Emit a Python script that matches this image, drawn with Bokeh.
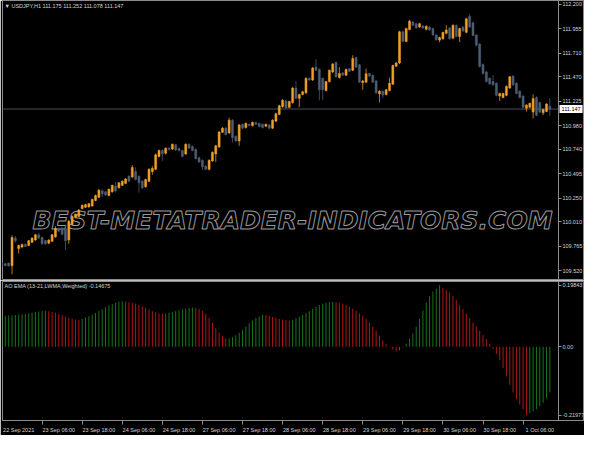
from bokeh.plotting import figure
from bokeh.models import (Range1d, FixedTicker, NumeralTickFormatter, CustomJSTickFormatter,
                          Label, ColumnDataSource)
from bokeh.layouts import column
from bokeh.embed import file_html
from bokeh.resources import INLINE

# ---------------- data (USDJPY H1) ----------------
open_ = [109.595, 109.588, 109.595, 109.569, 109.847, 109.741, 109.757, 109.783, 109.773, 109.805,
         109.828, 109.880, 109.854, 109.821, 109.796, 109.815, 109.860, 109.944, 109.944, 109.944,
         109.828, 109.983, 110.054, 110.064, 110.145, 110.158, 110.161, 110.171, 110.226, 110.258,
         110.323, 110.313, 110.275, 110.313, 110.372, 110.355, 110.378, 110.398, 110.469, 110.462,
         110.517, 110.469, 110.420, 110.365, 110.420, 110.517, 110.540, 110.669, 110.728, 110.702,
         110.753, 110.744, 110.786, 110.750, 110.728, 110.695, 110.792, 110.770, 110.741, 110.656,
         110.630, 110.572, 110.540, 110.624, 110.695, 110.766, 110.912, 110.954, 110.906, 111.035,
         110.873, 110.825, 110.993, 110.961, 110.993, 110.980, 111.012, 111.003, 110.993, 110.974,
         110.987, 110.954, 111.025, 111.093, 111.171, 111.229, 111.164, 111.213, 111.358, 111.255,
         111.294, 111.310, 111.456, 111.439, 111.569, 111.546, 111.456, 111.333, 111.423, 111.520,
         111.617, 111.465, 111.511, 111.488, 111.553, 111.537, 111.666, 111.592, 111.414, 111.417,
         111.504, 111.488, 111.430, 111.300, 111.326, 111.294, 111.333, 111.397, 111.579, 111.611,
         111.925, 111.828, 111.948, 112.023, 112.006, 111.974, 111.984, 111.951, 111.974, 111.958,
         111.893, 111.841, 111.854, 111.909, 111.964, 111.861, 111.990, 111.877, 111.974, 111.919,
         112.081, 112.016, 111.893, 111.802, 111.595, 111.521, 111.456, 111.424, 111.407, 111.278,
         111.262, 111.285, 111.359, 111.479, 111.407, 111.327, 111.278, 111.155, 111.165, 111.116,
         111.262, 111.213, 111.110, 111.123, 111.175]
high = [109.602, 109.595, 109.600, 109.876, 109.867, 109.780, 109.790, 109.795, 109.828, 109.855,
        109.890, 109.902, 109.862, 109.828, 109.835, 109.888, 109.967, 109.955, 109.960, 109.983,
        110.032, 110.075, 110.095, 110.140, 110.185, 110.192, 110.200, 110.245, 110.285, 110.340,
        110.339, 110.320, 110.345, 110.385, 110.411, 110.411, 110.428, 110.452, 110.480, 110.582,
        110.560, 110.480, 110.430, 110.445, 110.550, 110.572, 110.700, 110.740, 110.740, 110.760,
        110.760, 110.800, 110.795, 110.758, 110.735, 110.800, 110.800, 110.780, 110.750, 110.665,
        110.640, 110.580, 110.640, 110.720, 110.785, 110.925, 110.965, 110.965, 111.060, 111.045,
        110.880, 110.995, 111.000, 111.010, 111.000, 111.020, 111.020, 111.010, 111.000, 111.000,
        110.995, 111.045, 111.110, 111.190, 111.245, 111.240, 111.230, 111.370, 111.430, 111.300,
        111.330, 111.465, 111.465, 111.570, 111.650, 111.556, 111.465, 111.430, 111.545, 111.610,
        111.625, 111.569, 111.520, 111.555, 111.560, 111.689, 111.675, 111.600, 111.440, 111.553,
        111.510, 111.495, 111.440, 111.335, 111.335, 111.350, 111.462, 111.595, 111.620, 111.935,
        111.935, 111.965, 112.045, 112.030, 112.015, 112.016, 111.990, 111.990, 111.980, 111.965,
        111.900, 111.875, 111.925, 111.990, 111.970, 112.000, 112.000, 111.965, 111.980, 112.065,
        112.103, 112.025, 111.900, 111.810, 111.605, 111.530, 111.465, 111.488, 111.415, 111.310,
        111.310, 111.385, 111.480, 111.488, 111.415, 111.335, 111.285, 111.195, 111.210, 111.294,
        111.275, 111.220, 111.150, 111.205, 111.252]
low = [109.565, 109.562, 109.560, 109.482, 109.800, 109.692, 109.745, 109.755, 109.765, 109.798,
       109.820, 109.840, 109.780, 109.775, 109.785, 109.808, 109.850, 109.905, 109.875, 109.724,
       109.789, 109.975, 110.045, 110.055, 110.135, 110.150, 110.155, 110.165, 110.218, 110.250,
       110.258, 110.270, 110.268, 110.305, 110.307, 110.345, 110.372, 110.390, 110.410, 110.455,
       110.430, 110.307, 110.340, 110.355, 110.410, 110.485, 110.530, 110.660, 110.624, 110.690,
       110.730, 110.735, 110.725, 110.720, 110.660, 110.685, 110.745, 110.720, 110.640, 110.605,
       110.533, 110.530, 110.530, 110.615, 110.614, 110.755, 110.905, 110.880, 110.895, 110.809,
       110.815, 110.776, 110.945, 110.950, 110.970, 110.970, 110.985, 110.960, 110.950, 110.965,
       110.945, 110.945, 111.015, 111.085, 111.160, 111.150, 111.155, 111.200, 111.245, 111.164,
       111.285, 111.300, 111.430, 111.430, 111.530, 111.235, 111.235, 111.325, 111.415, 111.510,
       111.465, 111.455, 111.480, 111.480, 111.520, 111.530, 111.560, 111.410, 111.342, 111.410,
       111.470, 111.410, 111.300, 111.213, 111.255, 111.285, 111.325, 111.390, 111.570, 111.600,
       111.820, 111.820, 111.940, 111.980, 111.955, 111.965, 111.955, 111.940, 111.935, 111.885,
       111.835, 111.819, 111.845, 111.900, 111.845, 111.850, 111.870, 111.822, 111.925, 111.910,
       111.965, 111.880, 111.780, 111.565, 111.495, 111.415, 111.390, 111.380, 111.275, 111.229,
       111.255, 111.275, 111.350, 111.380, 111.295, 111.255, 111.155, 111.123, 111.155, 111.052,
       111.075, 111.105, 111.085, 111.115, 111.078]
close = [109.575, 109.572, 109.569, 109.854, 109.821, 109.773, 109.783, 109.763, 109.821, 109.847,
         109.880, 109.847, 109.789, 109.789, 109.828, 109.880, 109.944, 109.918, 109.886, 109.821,
         110.016, 110.064, 110.087, 110.129, 110.177, 110.184, 110.194, 110.236, 110.275, 110.330,
         110.291, 110.281, 110.339, 110.378, 110.323, 110.404, 110.420, 110.443, 110.420, 110.559,
         110.436, 110.404, 110.355, 110.436, 110.540, 110.550, 110.686, 110.728, 110.695, 110.753,
         110.741, 110.792, 110.734, 110.728, 110.669, 110.792, 110.753, 110.728, 110.647, 110.614,
         110.566, 110.540, 110.630, 110.711, 110.776, 110.915, 110.954, 110.889, 111.035, 110.857,
         110.825, 110.987, 110.954, 111.003, 110.980, 111.012, 110.993, 110.970, 110.961, 110.993,
         110.954, 111.035, 111.100, 111.180, 111.235, 111.158, 111.223, 111.358, 111.255, 111.294,
         111.320, 111.456, 111.439, 111.559, 111.537, 111.342, 111.342, 111.423, 111.537, 111.601,
         111.472, 111.504, 111.488, 111.546, 111.527, 111.656, 111.569, 111.417, 111.430, 111.501,
         111.481, 111.417, 111.310, 111.326, 111.287, 111.342, 111.407, 111.585, 111.611, 111.925,
         111.828, 111.957, 112.032, 111.990, 111.964, 112.006, 111.964, 111.980, 111.942, 111.893,
         111.845, 111.867, 111.919, 111.942, 111.854, 111.990, 111.877, 111.958, 111.932, 112.055,
         111.974, 111.887, 111.790, 111.576, 111.505, 111.424, 111.401, 111.391, 111.285, 111.304,
         111.304, 111.375, 111.472, 111.391, 111.304, 111.262, 111.165, 111.187, 111.204, 111.252,
         111.084, 111.116, 111.142, 111.197, 111.147]

# AO EMA (13-21, LWMA, Weighted) histogram values
ao = [0.0981, 0.0992, 0.1002, 0.1012, 0.1023, 0.1033, 0.1043, 0.1054, 0.1074, 0.1095,
      0.1116, 0.1136, 0.1147, 0.1157, 0.1147, 0.1126, 0.1095, 0.1054, 0.1012, 0.0971,
      0.0930, 0.0899, 0.0878, 0.0868, 0.0899, 0.0940, 0.0981, 0.1033, 0.1085, 0.1147,
      0.1209, 0.1271, 0.1333, 0.1374, 0.1415, 0.1446, 0.1467, 0.1457, 0.1436, 0.1415,
      0.1384, 0.1343, 0.1302, 0.1250, 0.1198, 0.1147, 0.1105, 0.1074, 0.1064, 0.1074,
      0.1095, 0.1116, 0.1147, 0.1178, 0.1209, 0.1229, 0.1250, 0.1260, 0.1250, 0.1219,
      0.1157, 0.1064, 0.0930, 0.0775, 0.0599, 0.0455, 0.0341, 0.0258, 0.0269, 0.0310,
      0.0372, 0.0455, 0.0547, 0.0651, 0.0754, 0.0847, 0.0930, 0.0981, 0.1023, 0.1012,
      0.0992, 0.0961, 0.0930, 0.0899, 0.0878, 0.0857, 0.0847, 0.0868, 0.0919, 0.0971,
      0.1023, 0.1085, 0.1147, 0.1219, 0.1281, 0.1343, 0.1384, 0.1415, 0.1436, 0.1446,
      0.1436, 0.1415, 0.1384, 0.1343, 0.1291, 0.1229, 0.1157, 0.1074, 0.0992, 0.0888,
      0.0775, 0.0651, 0.0517, 0.0362, 0.0207, 0.0083, -0.0010, -0.0093, -0.0155, -0.0114,
      -0.0021, 0.0103, 0.0258, 0.0434, 0.0640, 0.0899, 0.1167, 0.1426, 0.1632, 0.1777,
      0.1870, 0.19843, 0.1890, 0.1828, 0.1746, 0.1632, 0.1498, 0.1353, 0.1209, 0.1064,
      0.0919, 0.0785, 0.0651, 0.0517, 0.0382, 0.0248, 0.0103, -0.0062, -0.0227, -0.0434,
      -0.0682, -0.0950, -0.1219, -0.1467, -0.1684, -0.1859, -0.2004, -0.21977, -0.2128, -0.2076,
      -0.2004, -0.1911, -0.1797, -0.1653, -0.14675]

symbol = "USDJPY,H1"
indicator_name = "AO EMA (13-21,LWMA,Weighted)"
price_ticks = [109.520, 109.765, 110.010, 110.250, 110.495, 110.740, 110.980,
               111.225, 111.470, 111.710, 111.955, 112.200]
ao_ticks = [-0.21977, 0.0, 0.19843]
time_tick_bars = [0, 12, 24, 36, 48, 60, 72, 84, 96, 108, 120, 132, 144, 156]
time_tick_labels = ["22 Sep 2021", "23 Sep 06:00", "23 Sep 18:00", "24 Sep 06:00",
                    "24 Sep 18:00", "27 Sep 06:00", "27 Sep 18:00", "28 Sep 06:00",
                    "28 Sep 18:00", "29 Sep 06:00", "29 Sep 18:00", "30 Sep 06:00",
                    "30 Sep 18:00", "1 Oct 06:00"]
watermark = "BEST-METATRADER-INDICATORS.COM"

# ---------------- styling ----------------
BULL = "#f0a028"
BEAR = "#4e5e74"
UPC = "#17751a"
DNC = "#ad1717"
FRAME = "#8c8c8c"
TXT = "#d4d4d4"
FONT = "Liberation Sans"
FS = "5.5px"

n = len(close)
idx = list(range(n))
last_price = close[-1]

csrc = ColumnDataSource(dict(
    x=idx, open=open_, high=high, low=low, close=close,
    top=[max(o, c) for o, c in zip(open_, close)],
    bottom=[min(o, c) for o, c in zip(open_, close)],
    color=[BULL if c >= o else BEAR for o, c in zip(open_, close)],
))
asrc = ColumnDataSource(dict(
    x=idx, ao=ao, zero=[0.0] * n,
    color=[UPC if (i == 0 or ao[i] > ao[i - 1]) else DNC for i in range(n)],
))

# chart area spans bars 0.15 .. 166.6, the price scale sits to the right of it
AXIS_X = 166.6
xr = Range1d(0.15, 174.38)


def style_axis(ax):
    ax.major_label_text_font_size = FS
    ax.major_label_text_font = FONT
    ax.major_label_text_color = TXT
    ax.axis_line_color = FRAME
    ax.major_tick_line_color = FRAME
    ax.major_tick_in = 0
    ax.major_tick_out = 3
    ax.minor_tick_line_color = None
    ax.major_label_standoff = 1


# ---------------- price panel ----------------
p1 = figure(frame_width=582, frame_height=279, x_range=xr, y_range=Range1d(109.43, 112.24),
            x_axis_location=None, y_axis_location="right",
            output_backend="svg", toolbar_location=None,
            background_fill_color="black", border_fill_color="black",
            min_border_left=2, min_border_top=0, min_border_bottom=1, min_border_right=0,
            outline_line_color=FRAME)
p1.grid.visible = False

ya = p1.yaxis[0]
ya.fixed_location = AXIS_X
ya.ticker = FixedTicker(ticks=price_ticks)
ya.formatter = NumeralTickFormatter(format="0.000")
style_axis(ya)

p1.add_layout(Label(x=290, y=59, x_units="screen", y_units="screen", text=watermark,
                    text_align="center", text_baseline="middle", text_font="DejaVu Sans",
                    text_font_size="25px", text_font_style="bold italic",
                    text_color="black", text_outline_color="#9a9a9a", level="underlay"))

p1.segment(x0=[0.15], y0=[last_price], x1=[AXIS_X], y1=[last_price],
           line_color="#4a4e53", line_width=1, level="underlay")

p1.segment(x0="x", y0="low", x1="x", y1="high", source=csrc, line_color="color",
           line_width=1, line_alpha=0.75)
p1.vbar(x="x", width=0.6, top="top", bottom="bottom", source=csrc, fill_color="color",
        line_color="color", line_width=0.5)

title_txt = "\u25BC " + symbol + "  " + " ".join(f"{v:.3f}" for v in
                                                  (open_[-1], high[-1], low[-1], close[-1]))
p1.add_layout(Label(x=2, y=277, x_units="screen", y_units="screen", text=title_txt,
                    text_baseline="top", text_font=FONT, text_font_size=FS, text_color=TXT))

# current price tag on the price scale
p1.add_layout(Label(x=AXIS_X, y=last_price, x_offset=1,
                    text=f"{last_price:.3f}", text_baseline="middle", text_align="left",
                    text_font=FONT, text_font_size=FS, text_color="black",
                    background_fill_color="white", padding=2, level="overlay"))

# ---------------- indicator panel ----------------
p2 = figure(frame_width=582, frame_height=139, x_range=xr, y_range=Range1d(-0.2368, 0.2099),
            y_axis_location="right",
            output_backend="svg", toolbar_location=None,
            background_fill_color="black", border_fill_color="black",
            min_border_left=2, min_border_top=1, min_border_bottom=3, min_border_right=0,
            outline_line_color=FRAME)
p2.grid.visible = False

ya2 = p2.yaxis[0]
ya2.fixed_location = AXIS_X
ya2.ticker = FixedTicker(ticks=ao_ticks)
ya2.formatter = CustomJSTickFormatter(code="return tick == 0 ? '0.00' : tick.toFixed(5);")
style_axis(ya2)

xa = p2.xaxis[0]
label_shift = 5
xa.ticker = FixedTicker(ticks=[b + label_shift for b in time_tick_bars],
                        minor_ticks=time_tick_bars)
xa.major_label_overrides = {b + label_shift: t for b, t in zip(time_tick_bars, time_tick_labels)}
style_axis(xa)
xa.major_tick_line_color = None
xa.minor_tick_line_color = FRAME
xa.minor_tick_in = 0
xa.minor_tick_out = 4
xa.major_label_standoff = 2

p2.segment(x0="x", y0="zero", x1="x", y1="ao", source=asrc, line_color="color", line_width=1)

p2.add_layout(Label(x=2, y=138, x_units="screen", y_units="screen",
                    text=f"{indicator_name} {ao[-1]:.5f}",
                    text_baseline="top", text_font=FONT, text_font_size=FS, text_color=TXT))

layout = column(p1, p2, spacing=0)
open("out.html", "w").write(file_html(layout, INLINE))
